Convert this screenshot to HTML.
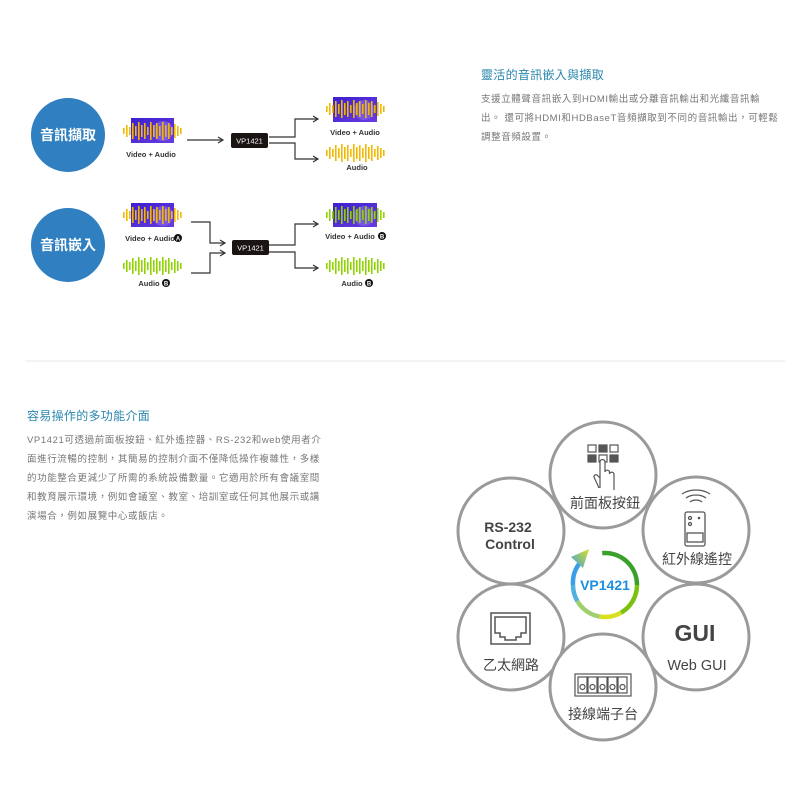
<!DOCTYPE html>
<html><head><meta charset="utf-8">
<style>
html,body{margin:0;padding:0;background:#fff;}
body{width:800px;height:800px;position:relative;overflow:hidden;font-family:"Liberation Sans","Noto Sans CJK TC",sans-serif;}
.t{position:absolute;white-space:nowrap;}
.h{color:#2a86ad;font-size:12px;letter-spacing:0.3px;}
.p{color:#777;font-size:9.5px;line-height:19px;letter-spacing:0.6px;}
svg{position:absolute;left:0;top:0;}
</style></head><body>
<svg width="800" height="800" viewBox="0 0 800 800" xmlns="http://www.w3.org/2000/svg">
<defs>
<g id="wave">
<rect x="0" y="-3" width="1.6" height="6"/><rect x="3" y="-6" width="1.6" height="12"/><rect x="6" y="-4" width="1.6" height="8"/><rect x="9" y="-8" width="1.6" height="16"/><rect x="12" y="-5" width="1.6" height="10"/><rect x="15" y="-9" width="1.6" height="18"/><rect x="18" y="-6" width="1.6" height="12"/><rect x="21" y="-8" width="1.6" height="16"/><rect x="24" y="-4" width="1.6" height="8"/><rect x="27" y="-9" width="1.6" height="18"/><rect x="30" y="-6" width="1.6" height="12"/><rect x="33" y="-8" width="1.6" height="16"/><rect x="36" y="-5" width="1.6" height="10"/><rect x="39" y="-9" width="1.6" height="18"/><rect x="42" y="-6" width="1.6" height="12"/><rect x="45" y="-8" width="1.6" height="16"/><rect x="48" y="-4" width="1.6" height="8"/><rect x="51" y="-7" width="1.6" height="14"/><rect x="54" y="-5" width="1.6" height="10"/><rect x="57" y="-3" width="1.6" height="6"/>
</g>
<marker id="ar" markerWidth="8" markerHeight="8" refX="6" refY="4" orient="auto" markerUnits="userSpaceOnUse"><path d="M1,1 L6,4 L1,7" fill="none" stroke="#333" stroke-width="1.2"/></marker>
<linearGradient id="vg" x1="0" y1="0" x2="1" y2="1"><stop offset="0" stop-color="#3b1fd0"/><stop offset="1" stop-color="#6a3ce0"/></linearGradient>
<linearGradient id="ag" x1="0" y1="1" x2="1" y2="0"><stop offset="0" stop-color="#3aa0e8"/><stop offset="1" stop-color="#d8e020"/></linearGradient>
</defs>

<circle cx="68" cy="135" r="37" fill="#2f7fc1"/>
<text x="68" y="140" font-size="14" font-weight="bold" fill="#fff" text-anchor="middle" font-family="Liberation Sans,Noto Sans CJK TC,sans-serif">音訊擷取</text>
<circle cx="68" cy="245" r="37" fill="#2f7fc1"/>
<text x="68" y="250" font-size="14" font-weight="bold" fill="#fff" text-anchor="middle" font-family="Liberation Sans,Noto Sans CJK TC,sans-serif">音訊嵌入</text>

<rect x="131" y="118" width="43" height="25" fill="url(#vg)"/><circle cx="163" cy="131" r="10" fill="#8a6cf0" opacity="0.6"/>
<use href="#wave" x="123" y="131" fill="#f0b800"/>
<text x="151" y="157" font-size="7.5" font-weight="bold" fill="#333" text-anchor="middle">Video + Audio</text>
<line x1="187" y1="140" x2="223" y2="140" stroke="#333" stroke-width="1.2" marker-end="url(#ar)"/>
<rect x="231" y="133" width="37" height="15" rx="2" fill="#1a1412"/>
<text x="249.5" y="143.5" font-size="7.5" fill="#fff" text-anchor="middle">VP1421</text>
<path d="M269,137 H295 V119 H318" fill="none" stroke="#333" stroke-width="1.2" marker-end="url(#ar)"/>
<path d="M269,143 H295 V159 H318" fill="none" stroke="#333" stroke-width="1.2" marker-end="url(#ar)"/>
<rect x="333" y="97" width="44" height="25" fill="url(#vg)"/><circle cx="364" cy="110" r="10" fill="#8a6cf0" opacity="0.6"/>
<use href="#wave" x="326" y="109" fill="#f0b800"/>
<text x="355" y="135" font-size="7.5" font-weight="bold" fill="#333" text-anchor="middle">Video + Audio</text>
<use href="#wave" x="326" y="153" fill="#f0b800"/>
<text x="357" y="170" font-size="7.5" font-weight="bold" fill="#333" text-anchor="middle">Audio</text>

<rect x="131" y="203" width="43" height="24" fill="url(#vg)"/><circle cx="163" cy="216" r="10" fill="#8a6cf0" opacity="0.6"/>
<use href="#wave" x="123" y="215" fill="#f0b800"/>
<text x="150" y="241" font-size="7.5" font-weight="bold" fill="#333" text-anchor="middle">Video + Audio</text>
<circle cx="178" cy="238" r="4" fill="#111"/><text x="178" y="240.5" font-size="6" font-weight="bold" fill="#fff" text-anchor="middle">A</text>
<use href="#wave" x="123" y="266" fill="#8fd400"/>
<text x="149" y="286" font-size="7.5" font-weight="bold" fill="#333" text-anchor="middle">Audio</text>
<circle cx="166" cy="283" r="4" fill="#111"/><text x="166" y="285.5" font-size="6" font-weight="bold" fill="#fff" text-anchor="middle">B</text>
<path d="M191,222 H210 V243 H225" fill="none" stroke="#333" stroke-width="1.2" marker-end="url(#ar)"/>
<path d="M191,273 H210 V253 H225" fill="none" stroke="#333" stroke-width="1.2" marker-end="url(#ar)"/>
<rect x="232" y="240" width="37" height="15" rx="2" fill="#1a1412"/>
<text x="250.5" y="250.5" font-size="7.5" fill="#fff" text-anchor="middle">VP1421</text>
<path d="M269,245 H295 V224 H318" fill="none" stroke="#333" stroke-width="1.2" marker-end="url(#ar)"/>
<path d="M269,252 H295 V268 H318" fill="none" stroke="#333" stroke-width="1.2" marker-end="url(#ar)"/>
<rect x="333" y="203" width="44" height="24" fill="url(#vg)"/><circle cx="364" cy="216" r="10" fill="#8a6cf0" opacity="0.6"/>
<use href="#wave" x="326" y="215" fill="#8fd400"/>
<text x="350" y="239" font-size="7.5" font-weight="bold" fill="#333" text-anchor="middle">Video + Audio</text>
<circle cx="382" cy="236" r="4" fill="#111"/><text x="382" y="238.5" font-size="6" font-weight="bold" fill="#fff" text-anchor="middle">B</text>
<use href="#wave" x="326" y="266" fill="#8fd400"/>
<text x="352" y="286" font-size="7.5" font-weight="bold" fill="#333" text-anchor="middle">Audio</text>
<circle cx="369" cy="283" r="4" fill="#111"/><text x="369" y="285.5" font-size="6" font-weight="bold" fill="#fff" text-anchor="middle">B</text>

<line x1="25" y1="361" x2="785" y2="361" stroke="#e8e8e8" stroke-width="1"/>

<g fill="#fff" stroke="#9a9a9a" stroke-width="3">
<circle cx="511" cy="531" r="53"/>
<circle cx="511" cy="637" r="53"/>
<circle cx="696" cy="530" r="53"/>
<circle cx="696" cy="637" r="53"/>
<circle cx="603" cy="475" r="53"/>
<circle cx="603" cy="687" r="53"/>
</g>
<g font-family="Liberation Sans,Noto Sans CJK TC,sans-serif" fill="#444" text-anchor="middle">
<text x="508" y="532" font-size="14" font-weight="bold">RS-232</text>
<text x="510" y="549" font-size="14" font-weight="bold">Control</text>
<text x="605" y="508" font-size="14">前面板按鈕</text>
<text x="697" y="564" font-size="14">紅外線遙控</text>
<text x="695" y="641" font-size="23" font-weight="bold">GUI</text>
<text x="697" y="670" font-size="14.5">Web GUI</text>
<text x="511" y="670" font-size="14">乙太網路</text>
<text x="603" y="719" font-size="14">接線端子台</text>
</g>
<g stroke="#555" stroke-width="1.2">
<rect x="588" y="445" width="8" height="7" fill="#fff"/><rect x="599" y="445" width="8" height="7" fill="#555"/><rect x="610" y="445" width="8" height="7" fill="#fff"/>
<rect x="588" y="455" width="8" height="7" fill="#555"/><rect x="599" y="455" width="8" height="7" fill="#fff"/><rect x="610" y="455" width="8" height="7" fill="#555"/>
<path d="M600,488 V462 a2.5,2.5 0 0 1 5,0 V472 a2.3,2.3 0 0 1 4.5,0 V474 a2.3,2.3 0 0 1 4.5,0 V490 M600,478 l-3,-3 a2,2 0 0 0 -3,2 l5,11" fill="#fff"/>
</g>
<g fill="none" stroke="#555" stroke-width="1.3">
<path d="M686,498 a14,10 0 0 1 20,0"/><path d="M682,494 a20,14 0 0 1 28,0"/><path d="M690,502 a8,6 0 0 1 12,0"/>
<rect x="685" y="512" width="20" height="34" rx="2"/>
<circle cx="690" cy="518" r="1.5"/><circle cx="690" cy="524" r="1.5"/>
<rect x="687" y="533" width="16" height="9"/>
</g>
<circle cx="699" cy="518" r="1.3" fill="#555"/>
<g fill="none" stroke="#555" stroke-width="1.5">
<rect x="491" y="613" width="39" height="31"/>
<path d="M495,617 H526 V633 H521 V637 H516 V640 H505 V637 H500 V633 H495 Z"/>
</g>
<g fill="none" stroke="#555" stroke-width="1.2">
<rect x="575" y="674" width="56" height="22"/>
<rect x="578" y="677" width="9" height="16"/><rect x="588" y="677" width="9" height="16"/><rect x="598" y="677" width="9" height="16"/><rect x="608" y="677" width="9" height="16"/><rect x="618" y="677" width="9" height="16"/>
<circle cx="582.5" cy="687" r="2.5"/><circle cx="592.5" cy="687" r="2.5"/><circle cx="602.5" cy="687" r="2.5"/><circle cx="612.5" cy="687" r="2.5"/><circle cx="622.5" cy="687" r="2.5"/>
</g>
<g fill="none" stroke-width="4.5">
<path d="M602.2,553.1 A32,32 0 0 1 637,585" stroke="#3aa02a"/>
<path d="M637,585 A32,32 0 0 1 621,612.7" stroke="#7cc010"/>
<path d="M621,612.7 A32,32 0 0 1 599.4,616.5" stroke="#d8e020"/>
<path d="M599.4,616.5 A32,32 0 0 1 577.3,601" stroke="#9fd070"/>
<path d="M577.3,601 A32,32 0 0 1 573,585" stroke="#50b0e0"/>
<path d="M573,585 A32,32 0 0 1 579,564" stroke="#3a9ee8"/>
</g>
<path d="M571,557 L589,549 L583,568 Z" fill="url(#ag)"/>
<text x="605" y="590" font-size="14" font-weight="bold" fill="#1e8fe0" text-anchor="middle">VP1421</text>
</svg>

<div class="t h" style="left:481px;top:66px;">靈活的音訊嵌入與擷取</div>
<div class="t p" style="left:481px;top:90px;">支援立體聲音訊嵌入到HDMI輸出或分離音訊輸出和光纖音訊輸<br>出。 還可將HDMI和HDBaseT音頻擷取到不同的音訊輸出，可輕鬆<br>調整音頻設置。</div>

<div class="t h" style="left:27px;top:407px;">容易操作的多功能介面</div>
<div class="t p" style="left:27px;top:431px;">VP1421可透過前面板按鈕、紅外遙控器、RS-232和web使用者介<br>面進行流暢的控制，其簡易的控制介面不僅降低操作複雜性，多樣<br>的功能整合更減少了所需的系統設備數量。它適用於所有會議室間<br>和教育展示環境，例如會議室、教室、培訓室或任何其他展示或講<br>演場合，例如展覽中心或飯店。</div>
</body></html>
